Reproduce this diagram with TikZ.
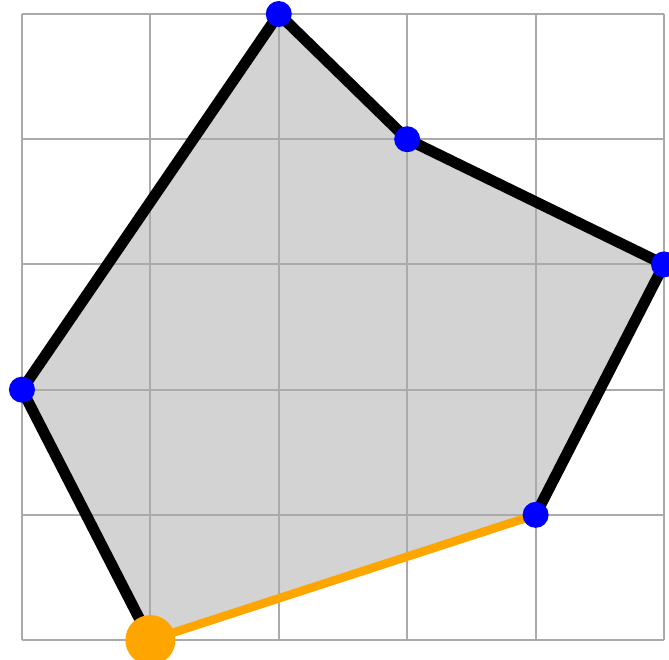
\documentclass[tikz,border=0pt]{standalone}
\usepackage{tikz}
\definecolor{gridgray}{RGB}{170,170,170}
\definecolor{hullfill}{RGB}{211,211,211}
\definecolor{startorange}{RGB}{255,165,0}
\begin{document}
\begin{tikzpicture}[x=2.568cm,y=2.504cm,
        vertex/.style={circle,fill=blue,minimum size=0.52cm,inner sep=0pt},
        start/.style={circle,fill=startorange,minimum size=1.0cm,inner sep=0pt},
        edge/.style={line width=0.22cm,line join=round,line cap=round},
        closing/.style={line width=0.17cm,color=startorange,line cap=round}]

\useasboundingbox (-0.171,-0.152) rectangle (5.039,5.112);

\coordinate (p0) at (1,0);
\coordinate (p1) at (0,2);
\coordinate (p2) at (2,5);
\coordinate (p3) at (3,4);
\coordinate (p4) at (5,3);
\coordinate (p5) at (4,1);

\fill[hullfill] (p0) -- (p1) -- (p2) -- (p3) -- (p4) -- (p5) -- cycle;
\draw[gridgray, line width=0.04cm, xstep=2.568cm, ystep=2.504cm] (0,0) grid (5,5);

\draw[edge] (p0) -- (p1) -- (p2) -- (p3) -- (p4) -- (p5);
\draw[closing] (p5) -- (p0);

\node[vertex] (v1) at (p1) {};
\node[vertex] (v2) at (p2) {};
\node[vertex] (v3) at (p3) {};
\node[vertex] (v4) at (p4) {};
\node[vertex] (v5) at (p5) {};
\node[start] (v0) at (p0) {};
\end{tikzpicture}
\end{document}
